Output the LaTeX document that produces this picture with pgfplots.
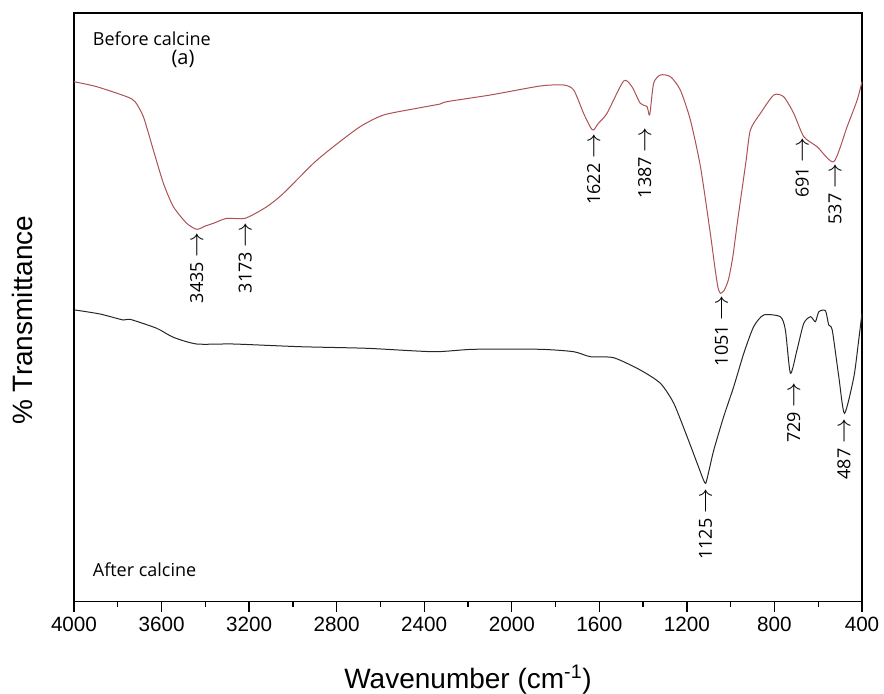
\documentclass[border=0pt]{standalone}
\usepackage{fontspec}
\setmainfont{Liberation Sans}
\newfontfamily\annfont{Open Sans}
\usepackage{graphicx}
\usepackage{pgfplots}
\pgfplotsset{compat=1.18}
\definecolor{redline}{RGB}{172,82,84}
\newcommand{\arr}{\scalebox{1.3}{$\rightarrow$}}
\begin{document}
\begin{tikzpicture}
\useasboundingbox (-55.5pt,-68.625pt) rectangle (607.5pt,451.125pt);
\begin{axis}[
  at={(0,0)}, anchor=south west,
  scale only axis, width=591pt, height=441.375pt,
  x dir=reverse,
  xmin=400, xmax=4000, ymin=0, ymax=588.5,
  xtick={400,800,...,4000},
  minor x tick num=1,
  ytick=\empty,
  xtick pos=bottom,
  tick align=outside,
  major tick length=7.5pt, minor tick length=3.75pt,
  axis line style={line width=1pt},
  every tick/.style={line width=1pt, black},
  /pgf/number format/assume math mode=true,
  /pgf/number format/1000 sep={},
  xticklabel style={font=\fontsize{15.5}{16}\selectfont, yshift=-1pt},
  xlabel={Wavenumber (cm\textsuperscript{-1})},
  xlabel style={font=\fontsize{21}{22}\selectfont, at={(axis description cs:0.5,0)}, anchor=center, yshift=-58.9pt},
  ylabel={\% Transmittance},
  ylabel style={font=\fontsize{21}{22}\selectfont, at={(axis description cs:-0.0653,0.478)}, anchor=center},
  clip=false,
]
\addplot[redline, line width=0.75pt, smooth, tension=0.4] coordinates {
(4000,519.8) (3896,514.8) (3759,504.8) (3721,499.8) (3683,484.8) (3637.5,451.5)
(3592,418.5) (3546,394.8) (3485,378.2) (3439,372.2) (3400,375.5) (3363,378.2) (3302,383.2)
(3218,383.2) (3119,394.8) (3043,408.2) (2906,438.2) (2815,454.8) (2693,474.8)
(2586,486.5) (2433,493.2) (2327,497.5) (2297,499.8) (2098,506.5) (1870,515.5)
(1763,516.5) (1717,511.5) (1672,488.2) (1640,474) (1626,471.5) (1605,478) (1565,488.2) (1489,520.5)
(1451,514.8) (1413,498.2) (1382,494.8) (1370,486.5) (1352,518.2) (1321,526.5)
(1275,524.8) (1230,511.5) (1184,481.5) (1138,434.8) (1093,368.2) (1072,334)
(1058,314) (1047,308.2) (1030,311) (1010,322) (990,345) (970,378) (955,401.5) (930,440) (910,471.5) (864,488.2)
(803,506.5) (758,504.8) (712,488.2) (666,464.8) (605,454.8) (529,439.8)
(468,474.8) (422,501.5) (400,519.8)
};
\addplot[black!85, line width=0.75pt, smooth, tension=0.4] coordinates {
(3995,291.5) (3881,287.5) (3775,281.5) (3744,282.2) (3622,273.2) (3546,264.2)
(3439,257.5) (3272,257.5) (2967,254.8) (2662,253.2) (2357,249.8) (2175,252.2)
(1870,252.2) (1717,249.8) (1641,244.8) (1535,243.8) (1413,231.5) (1321,218.2)
(1260,198.2) (1199,164.8) (1153,138.2) (1125,122) (1114,118.2) (1100,130) (1077,151.5) (1032,184.8)
(986,214.8) (940,248.2) (895,274.8) (849,286.5) (773,284.8) (750,271.5)
(727,228.2) (697,251.5) (666,278.2) (635,284.8) (613,279.8) (597,289.8)
(567,290.8) (552,276.5) (536,271.5) (506,224.8) (480,188.2) (437,224.8)
(415,261.5) (400,288.2)
};
\begin{scope}[every node/.style={rotate=90, anchor=east, inner sep=0pt, font=\annfont\fontsize{13.5}{14}\selectfont}]
\node at (axis cs:3439,369.5) {3435 \arr};
\node at (axis cs:3218,379.5) {3173 \arr};
\node at (axis cs:1626,467.8) {1622 \arr};
\node at (axis cs:1393,474.5) {1387 \arr};
\node at (axis cs:1042,306.5) {1051 \arr};
\node at (axis cs:673,464.5) {691 \arr};
\node at (axis cs:524,437.8) {537 \arr};
\node at (axis cs:1115,112.8) {1125 \arr};
\node at (axis cs:712,219.5) {729 \arr};
\node at (axis cs:483,182.8) {487 \arr};
\end{scope}
\node[anchor=west, inner sep=0pt, font=\annfont\fontsize{13.5}{14}\selectfont] at (axis cs:3915,562.5) {Before calcine};
\node[anchor=center, inner sep=0pt, font=\annfont\fontsize{15}{16}\selectfont] at (axis cs:3502,543) {(a)};
\node[anchor=west, inner sep=0pt, font=\annfont\fontsize{13.5}{14}\selectfont] at (axis cs:3915,32.2) {After calcine};
\end{axis}
\end{tikzpicture}
\end{document}
